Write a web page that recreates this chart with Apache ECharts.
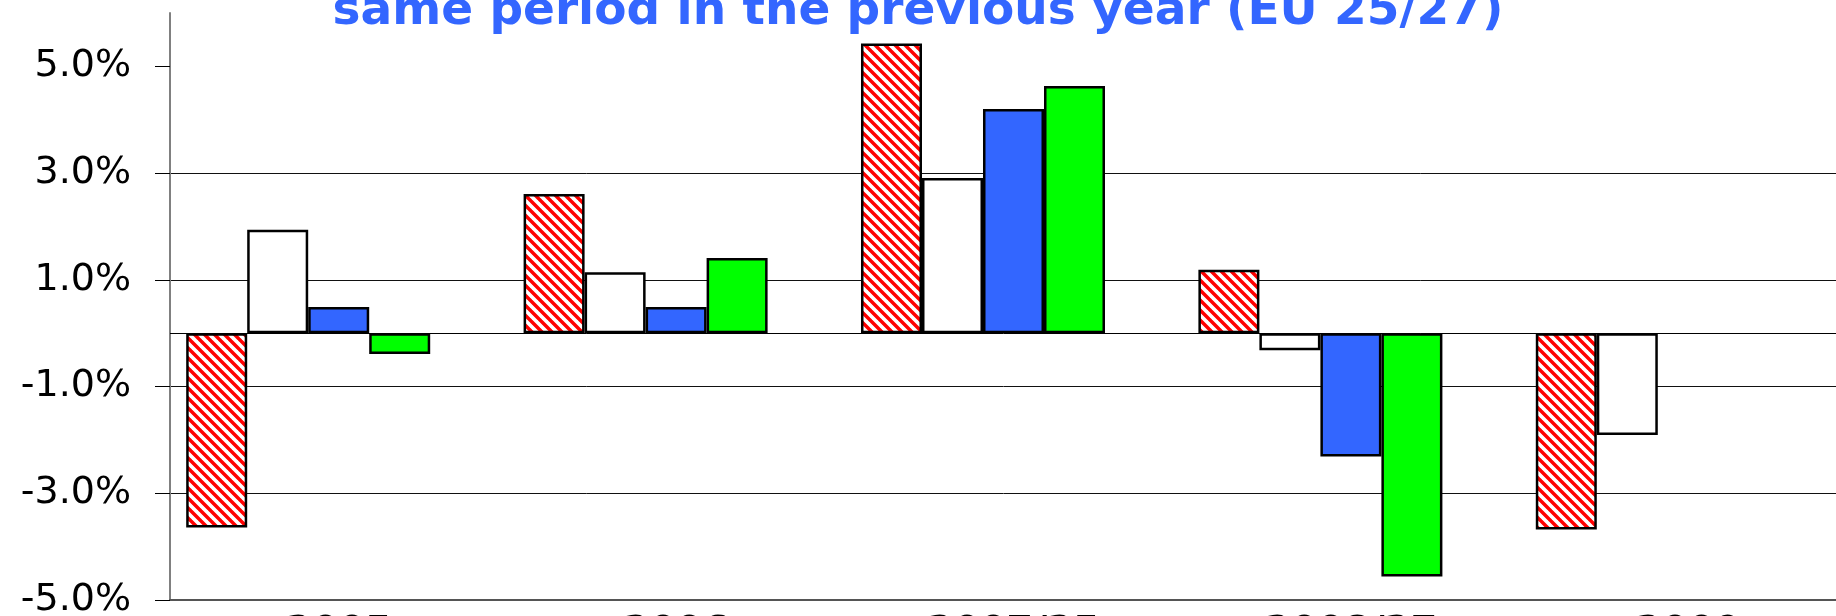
<!DOCTYPE html>
<html>
<head>
<meta charset="utf-8">
<script src="https://cdn.jsdelivr.net/npm/echarts@6/dist/echarts.min.js"></script>
<style>
  html, body { margin: 0; padding: 0; background: #fff; }
  #chart { width: 1836px; height: 616px; }
</style>
</head>
<body>
<div id="chart"></div>
<script>
// growth rates in % vs same period of the previous year
const years = ["2005", "2006", "2007/25", "2008/27", "2009"];
const series1 = [-3.64, 2.61, 5.43, 1.19, -3.68]; // red hatched
const series2 = [1.94, 1.14, 2.91, -0.32, -1.91]; // white
const series3 = [0.49, 0.49, 4.2, -2.31, null];  // blue
const series4 = [-0.39, 1.41, 4.63, -4.56, null]; // green
const series5 = [null, null, null, null, null];   // empty slot in the original
const yTicks = [-5, -3, -1, 1, 3, 5];

// red diagonal hatch
const hatch = document.createElement("canvas");
hatch.width = 10;
hatch.height = 10;
const ctx = hatch.getContext("2d");
ctx.fillStyle = "#fff";
ctx.fillRect(0, 0, 10, 10);
ctx.strokeStyle = "#ff0000";
ctx.lineWidth = 3.5;
ctx.beginPath();
ctx.moveTo(-1, -1); ctx.lineTo(11, 11);
ctx.moveTo(-1, 9); ctx.lineTo(1, 11);
ctx.moveTo(9, -1); ctx.lineTo(11, 1);
ctx.stroke();

const myChart = echarts.init(document.getElementById("chart"));

const barStyle = (color) => ({
  color: color,
  borderColor: "#000",
  borderWidth: 2.5,
});

myChart.setOption({
  animation: false,
  title: {
    text: "same period in the previous year (EU 25/27)",
    left: "center",
    top: -12,
    padding: 0,
    textStyle: {
      color: "#3366ff",
      fontFamily: "DejaVu Sans",
      fontWeight: "bold",
      fontSize: 47,
    },
  },
  grid: {
    left: 170,
    right: -21,
    top: 13,
    bottom: 16,
    outerBoundsMode: "none",
  },
  xAxis: {
    type: "category",
    data: years,
    axisLine: {
      onZero: false,
      lineStyle: { color: "#555", width: 2 },
    },
    axisTick: {
      length: 20,
      lineStyle: { color: "#666", width: 1 },
    },
    axisLabel: {
      margin: 13,
      color: "#000",
      fontFamily: "DejaVu Sans",
      fontWeight: "bold",
      fontSize: 38,
    },
  },
  yAxis: {
    type: "value",
    min: -5,
    max: 6,
    interval: 2,
    axisLine: {
      show: true,
      lineStyle: { color: "#808080", width: 2 },
    },
    axisTick: {
      show: true,
      length: 15,
      customValues: yTicks,
      lineStyle: { color: "#000" },
    },
    axisLabel: {
      margin: 39,
      customValues: yTicks,
      color: "#000",
      fontFamily: "DejaVu Sans",
      fontSize: 38,
      formatter: (v) => v.toFixed(1) + "%",
    },
    splitLine: {
      showMaxLine: false,
      lineStyle: { color: "#111", width: 1 },
    },
  },
  series: [
    {
      type: "bar",
      name: "Series 1",
      data: series1,
      barGap: "0%",
      barCategoryGap: "9.6%",
      itemStyle: barStyle({ image: hatch, repeat: "repeat" }),
      markLine: {
        silent: true,
        symbol: "none",
        label: { show: false },
        lineStyle: { color: "#000", type: "solid", width: 1 },
        data: [{ yAxis: 0 }],
      },
    },
    { type: "bar", name: "Series 2", data: series2, itemStyle: barStyle("#ffffff") },
    { type: "bar", name: "Series 3", data: series3, itemStyle: barStyle("#3366ff") },
    { type: "bar", name: "Series 4", data: series4, itemStyle: barStyle("#00ff00") },
    { type: "bar", name: "Series 5", data: series5, itemStyle: barStyle("#ffffff") },
  ],
});
</script>
</body>
</html>
